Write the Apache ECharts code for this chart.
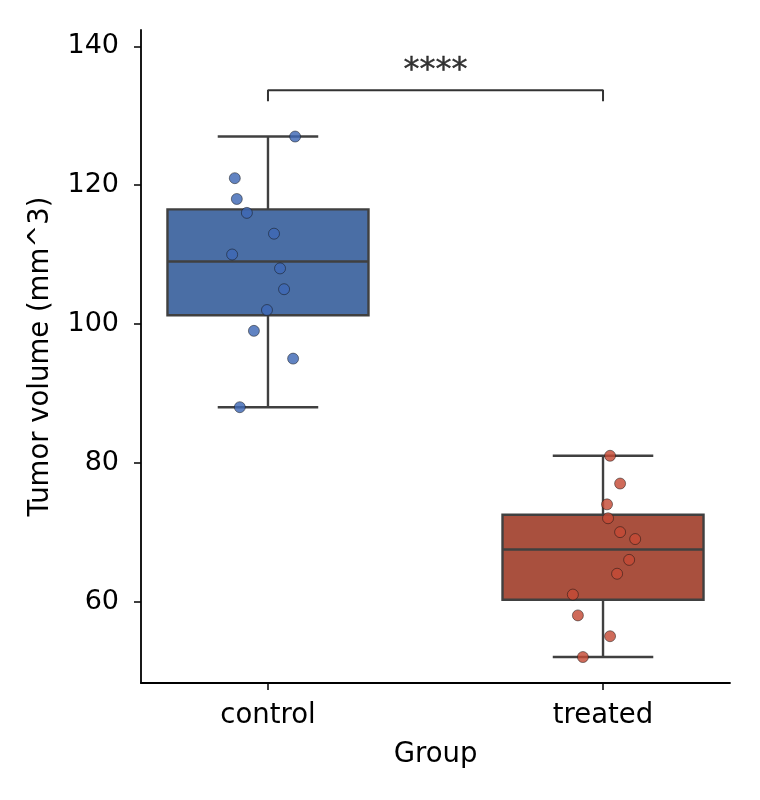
<!DOCTYPE html>
<html>
<head>
<meta charset="utf-8">
<script src="https://cdn.jsdelivr.net/npm/echarts@6/dist/echarts.min.js"></script>
<style>html,body{margin:0;padding:0;background:#fff;}#chart{width:760px;height:800px;}</style>
</head>
<body>
<div id="chart"></div>
<script>
// ---- data ----
var categories = ['control', 'treated'];
var controlValues = [127, 121, 118, 116, 113, 110, 108, 105, 102, 99, 95, 88];
var treatedValues = [81, 77, 74, 72, 70, 69, 66, 64, 61, 58, 55, 52];
// horizontal strip-plot jitter (in category units)
var controlJitter = [0.081, -0.099, -0.093, -0.063, 0.018, -0.107, 0.036, 0.048, -0.003, -0.042, 0.075, -0.084];
var treatedJitter = [0.021, 0.051, 0.012, 0.015, 0.051, 0.096, 0.078, 0.042, -0.090, -0.075, 0.021, -0.060];
var yTicks = [60, 80, 100, 120, 140];
var sigLabel = '****';
var sigBracket = {top: 133.66, tip: 132.1};

// ---- stats (linear-interpolated quartiles, 1.5 IQR whiskers) ----
function quantile(sorted, q) {
  var pos = (sorted.length - 1) * q, lo = Math.floor(pos), hi = Math.ceil(pos);
  return sorted[lo] + (sorted[hi] - sorted[lo]) * (pos - lo);
}
function boxStats(vals) {
  var s = vals.slice().sort(function (a, b) { return a - b; });
  var q1 = quantile(s, 0.25), med = quantile(s, 0.5), q3 = quantile(s, 0.75);
  var iqr = q3 - q1;
  var lo = s.filter(function (v) { return v >= q1 - 1.5 * iqr; })[0];
  var hiArr = s.filter(function (v) { return v <= q3 + 1.5 * iqr; });
  var hi = hiArr[hiArr.length - 1];
  return [q1, med, q3, lo, hi];
}
var groups = [controlValues, treatedValues];
var boxData = groups.map(function (g, i) { return [i].concat(boxStats(g)); });

var boxFill = ['#4a6ea5', '#a9503e'];
var pointFill = ['#3e68b4', '#c44a36'];
var lineCol = '#404040';
var FONT = 'DejaVu Sans';
var FS = 27.5;

var chart = echarts.init(document.getElementById('chart'), null, {renderer: 'canvas'});

function pts(vals, jit, xi) {
  return vals.map(function (v, k) { return [xi + jit[k], v]; });
}

var option = {
  animation: false,
  backgroundColor: '#ffffff',
  grid: {left: 141, right: 30, top: 30, bottom: 117, containLabel: false},
  xAxis: {
    type: 'value', min: -0.379, max: 1.379,
    name: 'Group', nameLocation: 'middle', nameGap: 58,
    nameTextStyle: {fontFamily: FONT, fontSize: FS, color: '#000'},
    axisLine: {show: true, onZero: false, lineStyle: {color: '#000', width: 1.8}},
    axisTick: {show: true, length: 7, lineStyle: {color: '#000', width: 1.5}, customValues: [0, 1]},
    axisLabel: {show: true, customValues: [0, 1], margin: 19, fontFamily: FONT, fontSize: FS, color: '#000',
      formatter: function (v) { return categories[Math.round(v)]; }},
    splitLine: {show: false}
  },
  yAxis: {
    type: 'value', min: 48.26, max: 142.35,
    name: 'Tumor volume (mm^3)', nameLocation: 'middle', nameGap: 86, nameRotate: 90,
    nameTextStyle: {fontFamily: FONT, fontSize: FS, color: '#000'},
    axisLine: {show: true, onZero: false, lineStyle: {color: '#000', width: 1.8}},
    axisTick: {show: true, length: 7, lineStyle: {color: '#000', width: 1.5}, customValues: yTicks},
    axisLabel: {show: true, customValues: yTicks, margin: 22, fontFamily: FONT, fontSize: 27, color: '#000'},
    splitLine: {show: false}
  },
  series: [
    {
      type: 'custom',
      data: boxData,
      z: 2,
      renderItem: function (params, api) {
        var xi = api.value(0);
        var q1 = api.value(1), med = api.value(2), q3 = api.value(3), lo = api.value(4), hi = api.value(5);
        var halfBox = 0.3, halfCap = 0.15;
        var pL = api.coord([xi - halfBox, q3]);
        var pR = api.coord([xi + halfBox, q1]);
        var cL = api.coord([xi - halfCap, lo])[0];
        var cR = api.coord([xi + halfCap, lo])[0];
        var cx = api.coord([xi, med])[0];
        var yMed = api.coord([xi, med])[1];
        var yLo = api.coord([xi, lo])[1];
        var yHi = api.coord([xi, hi])[1];
        var ls = {stroke: lineCol, lineWidth: 2.4};
        return {
          type: 'group',
          children: [
            {type: 'line', shape: {x1: cx, y1: pL[1], x2: cx, y2: yHi}, style: ls},
            {type: 'line', shape: {x1: cx, y1: pR[1], x2: cx, y2: yLo}, style: ls},
            {type: 'line', shape: {x1: cL, y1: yHi, x2: cR, y2: yHi}, style: ls},
            {type: 'line', shape: {x1: cL, y1: yLo, x2: cR, y2: yLo}, style: ls},
            {type: 'rect', shape: {x: pL[0], y: pL[1], width: pR[0] - pL[0], height: pR[1] - pL[1]},
              style: {fill: boxFill[xi], stroke: lineCol, lineWidth: 2.4}},
            {type: 'line', shape: {x1: pL[0], y1: yMed, x2: pR[0], y2: yMed}, style: ls}
          ]
        };
      }
    },
    {
      type: 'scatter', z: 5, symbolSize: 11,
      data: pts(controlValues, controlJitter, 0),
      itemStyle: {color: pointFill[0], opacity: 0.82, borderColor: '#111', borderWidth: 0.6}
    },
    {
      type: 'scatter', z: 5, symbolSize: 11,
      data: pts(treatedValues, treatedJitter, 1),
      itemStyle: {color: pointFill[1], opacity: 0.82, borderColor: '#111', borderWidth: 0.6}
    },
    {
      type: 'line', z: 4, symbol: 'none', silent: true,
      data: [[0, sigBracket.tip], [0, sigBracket.top], [1, sigBracket.top], [1, sigBracket.tip]],
      lineStyle: {color: '#333', width: 2}
    },
    {
      type: 'scatter', z: 6, symbolSize: 0, silent: true,
      data: [[0.5, sigBracket.top]],
      label: {show: true, position: 'top', distance: 4, formatter: sigLabel,
        fontFamily: FONT, fontSize: 32, color: '#000', textBorderColor: '#000', textBorderWidth: 0.4}
    }
  ]
};
chart.setOption(option);
</script>
</body>
</html>
